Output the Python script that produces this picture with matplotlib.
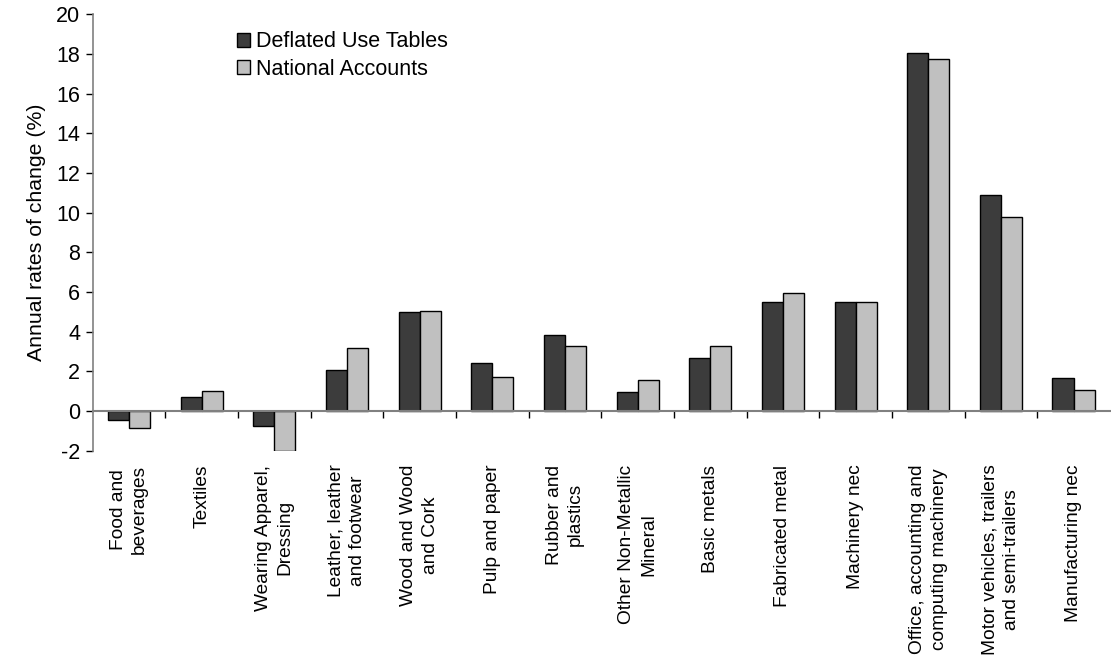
import numpy as np
import matplotlib
matplotlib.use("Agg")
import matplotlib.pyplot as plt

plt.rcParams['font.family'] = ['Liberation Sans', 'DejaVu Sans']
plt.rcParams['axes.unicode_minus'] = False

industries = [
    "Food and\nbeverages", "Textiles", "Wearing Apparel,\nDressing",
    "Leather, leather\nand footwear", "Wood and Wood\nand Cork", "Pulp and paper",
    "Rubber and\nplastics", "Other Non-Metallic\nMineral", "Basic metals",
    "Fabricated metal", "Machinery nec", "Office, accounting and\ncomputing machinery",
    "Motor vehicles, trailers\nand semi-trailers", "Manufacturing nec",
]
deflated_use = [-0.44, 0.71, -0.77, 2.05, 4.99, 2.42, 3.85, 0.94, 2.67, 5.48, 5.51, 18.04, 10.9, 1.66]
national_acc = [-0.87, 1.03, -2.02, 3.18, 5.04, 1.71, 3.28, 1.58, 3.28, 5.95, 5.51, 17.74, 9.76, 1.04]
yticks = list(range(-2, 21, 2))

fig = plt.figure(figsize=(11.11, 6.58), dpi=100)
ax = fig.add_axes([0.0834, 0.315, 0.9156, 0.6635])

x = np.arange(len(industries))
w = 0.29
ax.bar(x - w / 2, deflated_use, w, color='#3c3c3c', edgecolor='black', linewidth=1,
       label='Deflated Use Tables', zorder=3)
ax.bar(x + w / 2, national_acc, w, color='#c0c0c0', edgecolor='black', linewidth=1,
       label='National Accounts', zorder=3)

ax.set_xlim(-0.5, len(industries) - 0.5)
ax.set_ylim(-2, 20)
ax.set_yticks(yticks)
ax.tick_params(axis='y', direction='out', length=5, width=1, color='black',
               labelsize=15.5, pad=4)
ax.set_ylabel('Annual rates of change (%)', fontsize=15.3, labelpad=7)

# category axis sits on the zero line, ticks between groups
for side in ('top', 'right'):
    ax.spines[side].set_visible(False)
ax.spines['left'].set_color('#808080')
ax.spines['left'].set_linewidth(1.2)
ax.spines['bottom'].set_position(('data', 0))
ax.spines['bottom'].set_color('#808080')
ax.spines['bottom'].set_linewidth(1.5)
ax.spines['bottom'].set_zorder(4)
ax.set_xticks(np.arange(0.5, len(industries) - 0.5, 1))
ax.tick_params(axis='x', direction='out', length=5, width=1, color='black',
               labelbottom=False)

for i, name in enumerate(industries):
    ax.annotate(name, xy=(i, 0), xycoords=('data', 'axes fraction'),
                xytext=(0, -10), textcoords='offset points',
                rotation=90, ha='center', va='top', multialignment='center',
                fontsize=13.8, linespacing=1.35)

ax.legend(loc='upper left', bbox_to_anchor=(0.127, 0.995), frameon=False,
          fontsize=15.5, handlelength=0.6, handleheight=0.6,
          handletextpad=0.3, labelspacing=0.3, borderaxespad=0.3)

fig.savefig('out.png', dpi=100)
